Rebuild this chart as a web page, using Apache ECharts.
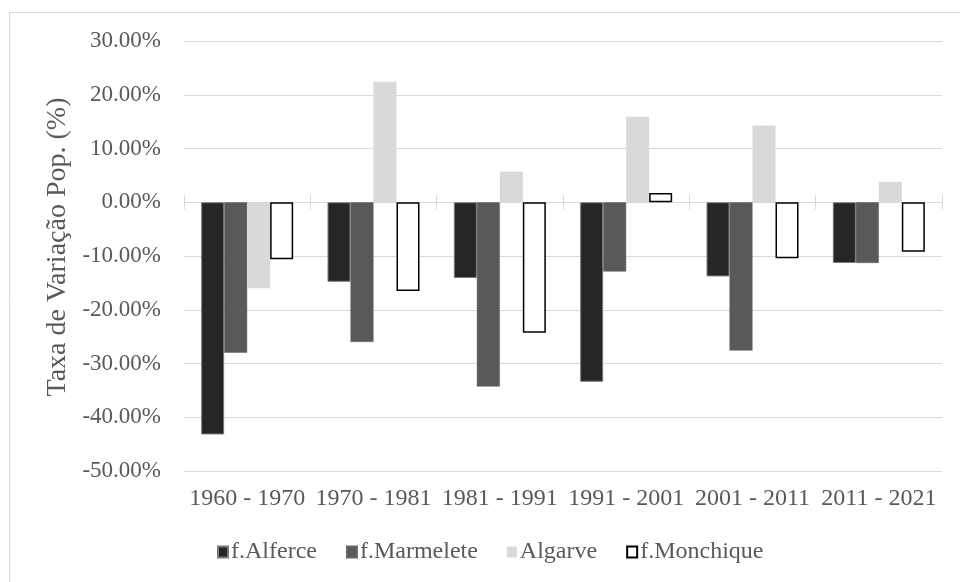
<!DOCTYPE html>
<html>
<head>
<meta charset="utf-8">
<script src="https://cdn.jsdelivr.net/npm/echarts@6/dist/echarts.min.js"></script>
<style>
  html, body { margin: 0; padding: 0; background: #fff; }
  #chart { width: 960px; height: 582px; }
</style>
</head>
<body>
<div id="chart"></div>
<script>
// Periods between censuses
var periods = ['1960 - 1970', '1970 - 1981', '1981 - 1991', '1991 - 2001', '2001 - 2011', '2011 - 2021'];

// Population change rate per period (%)
var alferce    = [-43.2, -14.8, -14.1, -33.4, -13.8, -11.3];
var marmelete  = [-28.0, -26.0, -34.3, -12.9, -27.6, -11.3];
var algarve    = [-16.0,  22.4,   5.7,  15.9,  14.3,   3.8];
var monchique  = [-10.6, -16.5, -24.3,   1.7, -10.4,  -9.2];

var yTicks = { min: -50, max: 30, step: 10 };

var font = 'Liberation Serif, Times New Roman, serif';
var textGray = '#595959';

var chart = echarts.init(document.getElementById('chart'));

function barSeries(name, data, style) {
  return {
    name: name,
    type: 'bar',
    data: data,
    xAxisIndex: 0,
    barWidth: 23,
    barGap: '0%',
    itemStyle: style
  };
}

chart.setOption({
  animation: false,
  backgroundColor: '#fff',
  textStyle: { fontFamily: font },
  graphic: [{
    type: 'rect',
    shape: { x: 9.5, y: 12.5, width: 960, height: 600 },
    style: { fill: 'none', stroke: '#d9d9d9', lineWidth: 1 },
    silent: true
  }],
  grid: { left: 184, right: 18, top: 41, bottom: 111, containLabel: false },
  legend: {
    top: 535,
    left: 212,
    icon: 'rect',
    itemWidth: 10,
    itemHeight: 11,
    itemGap: 29,
    textStyle: { fontFamily: font, fontSize: 24, color: textGray, padding: [0, 0, 0, -2] },
    data: ['f.Alferce', 'f.Marmelete', 'Algarve', 'f.Monchique']
  },
  xAxis: [
    {
      type: 'category',
      data: periods,
      position: 'bottom',
      axisLine: { show: false, onZero: false },
      axisTick: { show: false },
      axisLabel: { fontFamily: font, fontSize: 24, color: textGray, margin: 16, interval: 0, hideOverlap: false }
    },
    {
      type: 'category',
      data: periods,
      position: 'bottom',
      axisLine: { show: true, onZero: true, onZeroAxisIndex: 0, lineStyle: { color: '#d9d9d9', width: 1 } },
      axisTick: { show: true, length: 7, interval: 0, lineStyle: { color: '#d9d9d9' } },
      axisLabel: { show: false }
    },
    {
      type: 'category',
      data: periods,
      position: 'bottom',
      axisLine: { show: false, onZero: true, onZeroAxisIndex: 0 },
      axisTick: { show: true, inside: true, length: 7, interval: 0, lineStyle: { color: '#d9d9d9' } },
      axisLabel: { show: false }
    }
  ],
  yAxis: {
    type: 'value',
    min: yTicks.min,
    max: yTicks.max,
    interval: yTicks.step,
    name: 'Taxa de Variação Pop. (%)',
    nameLocation: 'middle',
    nameGap: 102,
    nameTextStyle: { fontFamily: font, fontSize: 28, color: textGray, padding: [0, 0, 0, 18] },
    axisLine: { show: false },
    axisTick: { show: false },
    splitLine: { lineStyle: { color: '#d9d9d9', width: 1 } },
    axisLabel: {
      fontFamily: font, fontSize: 23, color: textGray, margin: 23,
      formatter: function (v) { return v.toFixed(2) + '%'; }
    }
  },
  series: [
    barSeries('f.Alferce', alferce, { color: '#262626', borderColor: '#7a7a7a', borderWidth: 1 }),
    barSeries('f.Marmelete', marmelete, { color: '#595959', borderColor: '#666666', borderWidth: 0.5 }),
    barSeries('Algarve', algarve, { color: '#d9d9d9' }),
    barSeries('f.Monchique', monchique, { color: '#ffffff', borderColor: '#000000', borderWidth: 1.5 })
  ]
});
</script>
</body>
</html>
